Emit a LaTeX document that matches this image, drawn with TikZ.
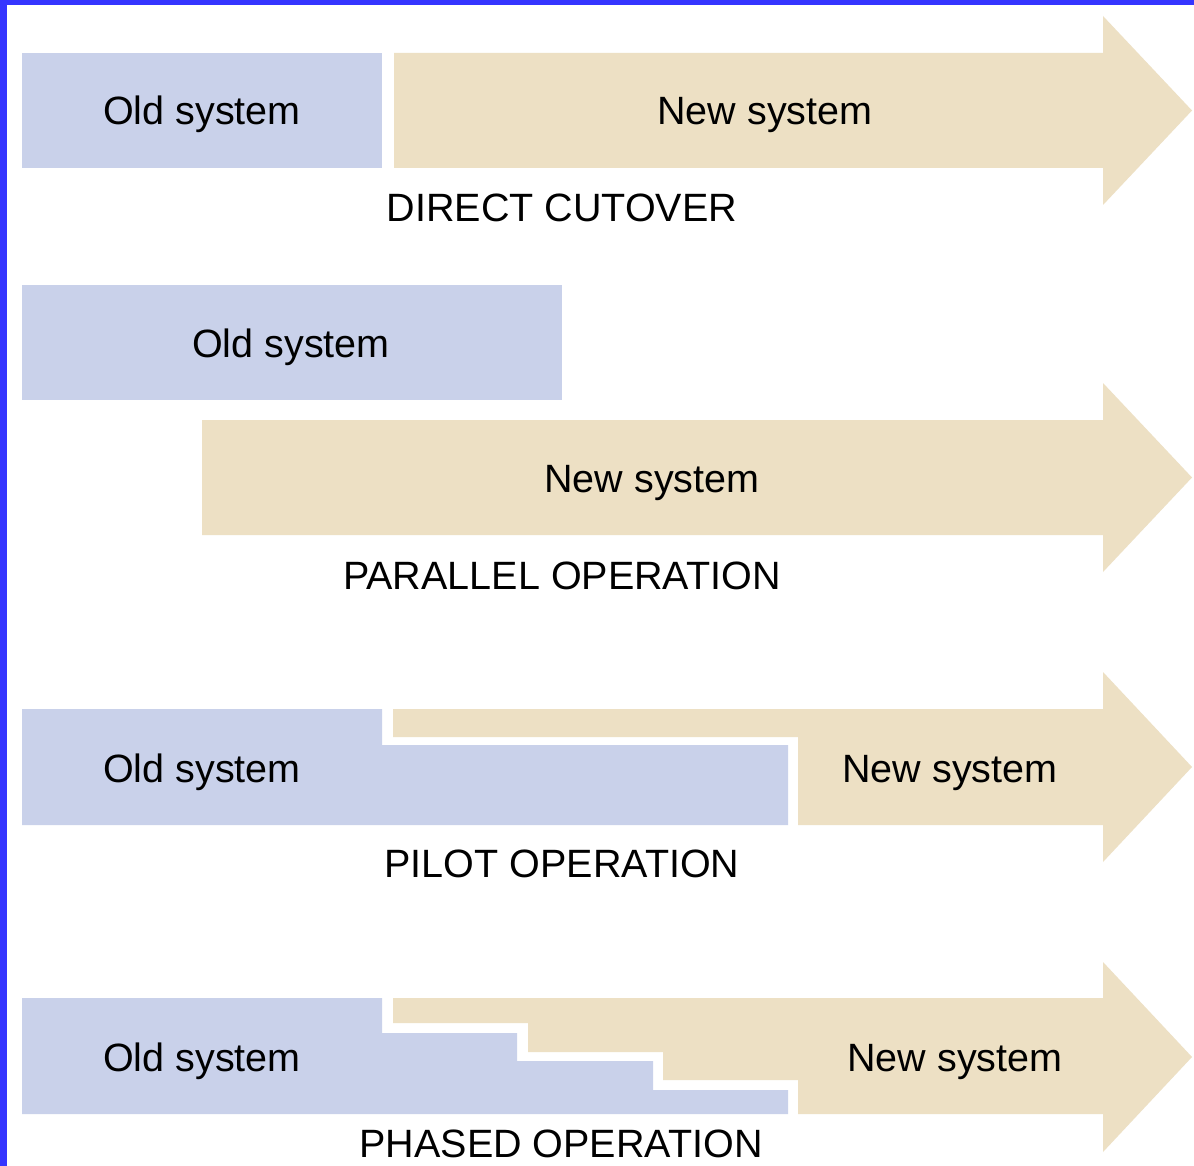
\documentclass[tikz,border=0pt]{standalone}
\usepackage{fontspec}
\setmainfont{Liberation Sans}
\definecolor{oldc}{HTML}{C9D1EA}
\definecolor{newc}{HTML}{EDE0C4}
\definecolor{framec}{HTML}{3535FF}
\tikzset{
  oldbox/.style={fill=oldc, draw=none},
  newbox/.style={fill=newc, draw=none},
  lbl/.style={anchor=base, inner sep=0pt, font=\fontsize{39.5}{40}\selectfont, text=black},
}
\begin{document}
\begin{tikzpicture}[x=1pt,y=-1pt]
\useasboundingbox (0,0) rectangle (1194,1166);
\fill[white] (0,0) rectangle (1194,1166);
% frame
\fill[framec] (0,0) rectangle (1194,5);
\fill[framec] (0,0) rectangle (7,1166);

% ---- Direct cutover
\fill[oldbox] (22,53) rectangle (382,168);
\fill[newbox] (394,53) -- (1103,53) -- (1103,16) -- (1192,110.5) -- (1103,205) -- (1103,168) -- (394,168) -- cycle;
\node[lbl] (o1) at (202,125) {Old system};
\node[lbl] (n1) at (765,125) {New system};
\node[lbl] (t1) at (562,222) {DIRECT CUTOVER};

% ---- Parallel operation
\fill[oldbox] (22,285) rectangle (562,400);
\fill[newbox] (202,420) -- (1103,420) -- (1103,383) -- (1192,477.5) -- (1103,572) -- (1103,535) -- (202,535) -- cycle;
\node[lbl] (o2) at (291,357) {Old system};
\node[lbl] (n2) at (652,492) {New system};
\node[lbl] (t2) at (562,589) {PARALLEL OPERATION};

% ---- Pilot operation
\fill[oldbox] (22,709) -- (382,709) -- (382,745) -- (788,745) -- (788,825) -- (22,825) -- cycle;
\fill[newbox] (393,709) -- (1103,709) -- (1103,672) -- (1192,767) -- (1103,862) -- (1103,825) -- (798,825) -- (798,737) -- (393,737) -- cycle;
\node[lbl] (o3) at (202,782) {Old system};
\node[lbl] (n3) at (950,782) {New system};
\node[lbl] (t3) at (562,877) {PILOT OPERATION};

% ---- Phased operation
\fill[oldbox] (22,998) -- (382,998) -- (382,1033) -- (517,1033) -- (517,1061) -- (653,1061) -- (653,1090) -- (788,1090) -- (788,1114) -- (22,1114) -- cycle;
\fill[newbox] (393,998) -- (1103,998) -- (1103,962) -- (1192,1057) -- (1103,1152) -- (1103,1114) -- (798,1114) -- (798,1080) -- (663,1080) -- (663,1052) -- (528,1052) -- (528,1023) -- (393,1023) -- cycle;
\node[lbl] (o4) at (202,1071) {Old system};
\node[lbl] (n4) at (955,1071) {New system};
\node[lbl] (t4) at (561,1157) {PHASED OPERATION};
\end{tikzpicture}
\end{document}
